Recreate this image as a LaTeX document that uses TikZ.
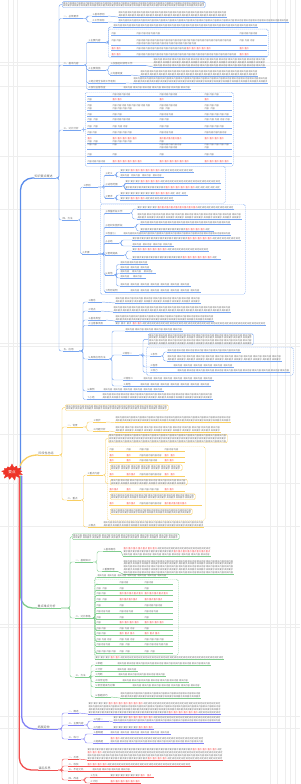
\documentclass[tikz,border=0pt]{standalone}
\usepackage{fontspec}
\setmainfont{Noto Sans CJK SC}
\usetikzlibrary{shapes.symbols}
\definecolor{bl}{RGB}{120,165,240}
\definecolor{blm}{RGB}{90,140,235}
\definecolor{ye}{RGB}{248,206,98}
\definecolor{gr}{RGB}{128,204,142}
\definecolor{pu}{RGB}{128,128,245}
\definecolor{rd}{RGB}{240,80,80}
\definecolor{rootc}{RGB}{238,52,40}
\definecolor{tc}{RGB}{110,110,110}
\definecolor{rt}{RGB}{240,70,70}
\definecolor{gridc}{RGB}{238,238,238}
\colorlet{brc}{bl}
\newcommand\tf{\fontsize{2.2}{2.75}\selectfont}
\newcommand\lf{\fontsize{2.5}{3}\selectfont}
\newcommand\lfa{\fontsize{3}{3.6}\selectfont}
\newsavebox\pbox
\newcount\rc
\newcommand\Rp[3]{\sbox\pbox{#3#2}\rc=\dimexpr#1pt\relax\divide\rc by\wd\pbox
  \hbox to #1pt{\loop\ifnum\rc>0 \usebox\pbox\hfil\advance\rc by -1 \repeat}}
\newcommand\Lf[2][内容]{\Rp{#2}{#1}{}}
\newcommand\Lr[2][重点]{\Rp{#2}{#1}{\color{rt}}}
\newcommand\Lrm[3]{\hbox{\Lf[要求]{#2}\Lr{#3}\Lf[规定]{\the\numexpr#1-#2-#3\relax}}\par}
\newcommand\Tb[2]{\foreach\q in{1,...,#2}{\ifodd\q\relax\Lf[相关内容]{#1}\else\Lf[具体要求]{#1}\fi\par}}
\newcommand\Nd[6][]{\node[txt,text width=#5pt,#1] (#2) at (#3,#4) {#6};
  \draw[ul] (#2.south west) -- (#2.south east);}
\newcommand\Cn[3][2.5]{\draw[cn] (#2.south east) -- ++(#1,0) |- (#3.south west);}
\newcommand\Cw[3][2.5]{\draw[cn] (#2.south east) -- ++(#1,0) |- (#3.west);}
\newcommand\Cs[2]{\draw[cn] (#1.south east) -- (#2.south west);}
\newcommand\DB[5]{\node[dbox,anchor=north west,minimum width={(#4-#2)*1pt},minimum height={(#5-#3)*1pt}] (#1) at (#2,#3) {};}
\newcommand\OB[5]{\node[obox,anchor=north west,text width=#4pt] (#1) at (#2,#3) {\Tb{#4}{#5}};}
\newcommand\Rw[4]{\hbox{\hbox to\wa{#1\hfil}\hbox to\wb{#2\hfil}\hbox to\wc{#3\hfil}#4}\par}
\def\wa{25pt}\def\wb{47pt}\def\wc{45pt}
\begin{document}
\begin{tikzpicture}[x=1pt,y=-1pt,
  txt/.style={anchor=south west,inner xsep=0.3pt,inner ysep=0.4pt,font=\tf,text=tc,align=left},
  ul/.style={draw=brc,line width=0.45pt},
  cn/.style={draw=brc,line width=0.45pt,rounded corners=2pt},
  dbox/.style={draw=brc,dashed,dash pattern=on 1.2pt off 0.8pt,line width=0.4pt,rounded corners=1.5pt,inner sep=0pt},
  obox/.style={draw=brc,line width=0.45pt,rounded corners=1.2pt,inner xsep=1pt,inner ysep=0.5pt,font=\tf,text=tc,align=left},
  mainln/.style={line width=1.3pt,line cap=round}]
\useasboundingbox (0,0) rectangle (300,784);
\foreach \gx in {8,13,17,270,277,285,290,295} \draw[gridc,line width=0.3pt] (\gx,0) -- (\gx,784);
\foreach \gy in {62,65,86,156,209,343,346,434,483,526,624,627,716,728} \draw[gridc,line width=0.3pt] (0,\gy) -- (300,\gy);

%================ BLUE
\colorlet{brc}{bl}
\Nd[font=\lfa]{b0}{34}{178}{21}{知识要点概述}
\OB{b1}{62}{1.5}{141}{2}
\Nd[font=\lf]{b2}{63}{18.5}{19}{一、总体要求}
\Nd[font=\lf]{b21}{92}{16}{15}{1.基本原则}
\Nd{b21t}{118}{17}{108}{\Tb{108}{2}}
\Nd[font=\lf]{b22}{92}{22}{15}{2.工作目标}
\Nd{b22t}{118}{22.5}{170}{\Tb{170}{1}}
\Nd[font=\lf]{b3}{63}{65}{20}{二、基本内容}
\Nd[font=\lf]{b31}{88}{42}{17}{1.主要内容}
\Nd{b31h}{113}{27}{144}{\Tb{144}{1}}
\DB{b31x}{108}{29}{268}{57}
\def\wa{25pt}\def\wb{103pt}\def\wc{20pt}
\Nd{b31r1}{111}{35.5}{155}{\Rw{\Lf{8}}{\Lf{24}}{\Lf{18}}{}}
\Nd{b31r2}{111}{45}{155}{\Rw{\Lf{10}}{\Lf{95}}{\Lf{16}}{}\Rw{}{\Lf{60}}{}{}}
\Nd{b31r3}{111}{50.5}{155}{\Rw{\Lr{10}}{\hbox{\Lf{50}\Lr{25}}}{\Lr{10}}{}}
\Nd{b31r4}{111}{56}{155}{\Rw{\Lr{10}}{\Lf{100}}{\Lr{10}}{}}
\Nd[font=\lf]{b32}{88}{70}{17}{2.主要措施}
\Nd[font=\lf]{b321}{110}{65.5}{35}{1.加强组织领导工作}
\Nd{b321t}{153}{67}{112}{\Tb{112}{3}}
\Nd[font=\lf]{b322}{110}{75}{20}{2.完善制度}
\Nd{b322t}{140}{76}{117}{\Tb{117}{2}}
\Nd[font=\lf]{b33}{88}{83}{37}{3.建立健全长效工作机制}
\Nd{b33t}{133}{83.5}{134}{\Tb{134}{2}}
\Nd[font=\lf]{b34}{88}{89.5}{25}{4.强化监督检查}
\Nd{b34t}{123}{89.5}{67}{\Tb{67}{1}}
\Nd[font=\lf]{b4}{63}{130}{17}{三、对比分析}
\DB{b4x}{85}{92}{233}{166}
\def\wa{25pt}\def\wb{47pt}\def\wc{45pt}
\Nd{b4r1}{87}{96}{144}{\Rw{}{\Lf{18}}{\Lf{18}}{\Lf{15}}}
\Nd{b4r2}{87}{101.5}{144}{\Rw{\Lf{8}}{\Lr{10}}{\Lr{8}}{\Lr{8}}}
\Nd{b4r3}{87}{110}{144}{\Rw{\Lf{8}}{\Lf{38}}{\Lf{18}}{\Lf{15}}\Rw{\Lf{8}}{\Lf{20}}{\Lf{12}}{\Lf{12}}}
\Nd{b4r4}{87}{116.5}{144}{\Rw{\Lf{6}}{\Lf{10}}{\Lf{14}}{\Lf{25}}}
\Nd{b4r5}{87}{121.5}{144}{\Rw{\Lf{12}}{\Lf{18}}{\Lf{10}}{\Lf{26}}}
\Nd{b4r6}{87}{128.5}{144}{\Rw{\Lf{12}}{\Lf{16}}{\Lf{10}}{\Lf{20}}}
\Nd{b4r7}{87}{134.5}{144}{\Rw{\Lf{10}}{\Lf{20}}{\Lf{14}}{\Lf{22}}}
\Nd{b4r8}{87}{143}{144}{\Rw{\Lr{8}}{\Lr{25}}{\Lr{22}}{\Lr{20}}\Rw{\Lf{12}}{\Lf{20}}{\Lf{8}}{}}
\Nd{b4r9}{87}{149.5}{144}{\Rw{\Lf{10}}{\Lf{8}}{\Lf{22}}{\Lf{25}}\Rw{}{}{\Lf{18}}{\Lf{8}}}
\Nd{b4r10}{87}{156}{144}{\Rw{\Lf{6}}{\Lf{8}}{\Lf{8}}{\Lf{10}}}
\Nd{b4r11}{87}{163}{144}{\Rw{\Lf{18}}{\Lr{30}}{\Lr{30}}{\Lr{25}}}
\Nd[font=\lf]{b5}{62}{220}{15}{四、方法}
\Nd[font=\lf]{b51}{83}{187}{14}{1.原则}
\DB{b51x}{100}{166}{225}{203}
\Nd[font=\lf]{b511}{105}{175}{8}{1.定义}
\Nd{b511a}{120}{172}{73}{\Lrm{73}{10}{30}}
\Nd{b511b}{120}{177}{43}{\Tb{43}{1}}
\Nd[font=\lf]{b512}{105}{186}{16}{2.适用范围}
\Nd{b512a}{125}{183.5}{95}{\Lrm{95}{15}{20}}
\Nd{b512b}{125}{189}{95}{\Lrm{95}{40}{30}}
\Nd[font=\lf]{b513}{105}{198}{8}{3.要求}
\Nd{b513a}{120}{195}{67}{\Lrm{67}{35}{15}}
\Nd{b513b}{120}{200}{53}{\Lrm{53}{10}{15}}
\Nd[font=\lf]{b52}{82}{254}{15}{2.步骤}
\DB{b52x}{100}{204}{245}{294}
\Nd[font=\lf]{b521}{105}{213}{24}{1.准备阶段工作}
\Nd{b521a}{137}{209}{96}{\Lrm{96}{20}{40}}
\Nd{b521b}{137}{219}{104}{\Tb{104}{2}}
\Nd[font=\lf]{b522}{105}{227}{28}{2.组织实施阶段}
\Nd{b522a}{140}{224}{90}{\Tb{90}{1}}
\Nd{b522b}{140}{231}{73}{\Lrm{73}{45}{20}}
\Nd[font=\lf]{b523}{105}{235.5}{16}{3.检查(1)}
\Nd{b523a}{123}{235.5}{107}{\Tb{107}{1}}
\Nd[font=\lf]{b524}{105}{243}{13}{4.总结}
\Nd{b524a}{132}{240}{108}{\Lrm{108}{55}{25}}
\Nd{b524b}{132}{246}{41}{\Tb{41}{1}}
\Nd[font=\lf]{b525}{105}{255}{18}{5.整改提高}
\Nd{b525a}{132}{251}{76}{\Lrm{76}{5}{30}}
\Nd{b525b}{132}{259}{88}{\Lrm{88}{50}{30}}
\Nd[font=\lf]{b526}{105}{275}{8}{6.其他}
\Nd{b526a}{120}{264.5}{27}{\Tb{27}{1}}
\Nd{b526b}{120}{269}{30}{\Tb{30}{1}}
\Nd{b526c}{120}{273.5}{35}{\Tb{35}{1}}
\Nd{b526d}{120}{278}{25}{\Tb{25}{1}}
\Nd{b526e}{120}{286}{70}{\Tb{70}{1}}
\Nd[font=\lf]{b527}{105}{292}{16}{7.附则说明}
\Nd{b527a}{130}{292}{70}{\Tb{70}{1}}
\Nd[font=\lf]{b6}{63}{351}{15}{五、应用}
\Nd[font=\lf]{b61}{88}{302}{13}{1.概念}
\Nd{b61t}{115}{303}{85}{\Tb{85}{2}}
\Nd[font=\lf]{b62}{88}{311}{12}{2.特点}
\Nd{b62t}{113}{312}{117}{\Tb{117}{2}}
\Nd[font=\lf]{b63}{88}{320}{17}{3.基本类型}
\Nd{b63t}{115}{321}{98}{\Tb{98}{2}}
\Nd[font=\lf]{b64}{88}{325.5}{20}{4.注意事项及}
\Nd{b64t}{115}{325.5}{150}{\Lrm{150}{17}{10}}
\Nd[font=\lf]{b65}{88}{359}{20}{5.具体应用方法}
\Nd{b65h}{125}{331}{57}{\Tb{57}{1}}
\OB{b651a}{148}{333.5}{103}{4}
\Nd[font=\lf]{b651}{122}{355}{16}{1.情形一}
\DB{b651x}{146}{347}{293}{375}
\Nd[font=\lf]{b6511}{150}{356}{10}{1.条件}
\Nd{b6511a}{167}{352}{73}{\Tb{73}{1}}
\Nd{b6511b}{167}{361}{114}{\Tb{114}{2}}
\Nd[font=\lf]{b6512}{150}{367}{15}{2.程序}
\Nd{b6512a}{173}{367}{60}{\Tb{60}{1}}
\Nd[font=\lf]{b6513}{150}{372.5}{15}{3.效力}
\Nd{b6513a}{177}{372.5}{112}{\Tb{112}{1}}
\Nd[font=\lf]{b652}{123}{380}{17}{2.情形二}
\Nd{b652t}{143}{380}{70}{\Tb{70}{1}}
\Nd[font=\lf]{b653}{123}{386}{12}{3.其他}
\Nd{b653t}{140}{386}{70}{\Tb{70}{1}}
\Nd[font=\lf]{b66}{87}{391}{13}{6.案例}
\Nd{b66t}{103}{391}{60}{\Tb{60}{1}}
\Nd[font=\lf]{b67}{87}{399.5}{12}{7.小结}
\Nd{b67t}{102}{399.5}{110}{\Tb{110}{2}}
% blue connectors
\Cw[3]{b0}{b1}
\foreach \k in {b2,b3,b4,b5,b6} {\Cn[3]{b0}{\k}}
\Cw{b4}{b4x}
\foreach \k in {b21,b22} {\Cn[4]{b2}{\k}}
\Cs{b21}{b21t}\Cs{b22}{b22t}
\foreach \k in {b31,b32,b33,b34} {\Cn{b3}{\k}}
\Cn{b31}{b31h}\Cw{b31}{b31x}
\foreach \k in {b321,b322} {\Cn{b32}{\k}}
\Cs{b321}{b321t}\Cs{b322}{b322t}\Cs{b33}{b33t}\Cs{b34}{b34t}
\foreach \k in {b51,b52} {\Cn{b5}{\k}}
\foreach \k in {b511,b512,b513} {\Cn[6]{b51}{\k}}
\Cn{b511}{b511a}\Cn{b511}{b511b}\Cn{b512}{b512a}\Cn{b512}{b512b}\Cn{b513}{b513a}\Cn{b513}{b513b}
\foreach \k in {b521,b522,b523,b524,b525,b526,b527} {\Cn[6]{b52}{\k}}
\Cn{b521}{b521a}\Cn{b521}{b521b}\Cn{b522}{b522a}\Cn{b522}{b522b}\Cs{b523}{b523a}
\Cn{b524}{b524a}\Cn{b524}{b524b}\Cn{b525}{b525a}\Cn{b525}{b525b}
\foreach \k in {b526a,b526b,b526c,b526d,b526e} {\Cn{b526}{\k}}
\Cs{b527}{b527a}
\foreach \k in {b61,b62,b63,b64,b65,b66,b67} {\Cn[4]{b6}{\k}}
\Cs{b61}{b61t}\Cs{b62}{b62t}\Cs{b63}{b63t}\Cs{b64}{b64t}\Cs{b66}{b66t}\Cs{b67}{b67t}
\foreach \k in {b65h,b651,b652,b653} {\Cn[3]{b65}{\k}}
\Cw[4]{b651}{b651a}
\foreach \k in {b6511,b6512,b6513} {\Cn[4]{b651}{\k}}
\Cn{b6511}{b6511a}\Cn{b6511}{b6511b}\Cs{b6512}{b6512a}\Cs{b6513}{b6513a}
\Cs{b652}{b652t}\Cs{b653}{b653t}

%================ YELLOW
\colorlet{brc}{ye}
\Nd[font=\lfa]{y0}{38}{455}{20}{阶段性总结}
\OB{y1}{65}{404.5}{101}{2}
\Nd[font=\lf]{y2}{67}{427}{15}{一、背景}
\Nd[font=\lf]{y21}{93}{422}{12}{1.现状}
\Nd{y21t}{115}{422.5}{115}{\Tb{115}{2}}
\Nd[font=\lf]{y22}{93}{431}{15}{2.问题分析}
\Nd{y22t}{115}{432}{105}{\Tb{105}{2}}
\Nd[font=\lf]{y3}{67}{500}{13}{二、重点}
\Nd[font=\lf]{y31}{87}{475}{15}{1.重点内容}
\OB{y31a}{108}{434}{117}{3}
\DB{y31x}{107}{446.5}{205}{520}
\def\wa{17pt}\def\wb{13pt}\def\wc{25pt}
\Nd{yr1}{109}{451}{75}{\Rw{\Lf{6}}{\Lf{6}}{\Lf{10}}{\Lf{14}}}
\Nd{yr2}{109}{457}{75}{\Rw{\Lr{5}}{\Lr{5}}{\Lf{22}}{\Lr{12}}}
\Nd{yr3}{109}{462}{75}{\Rw{\Lr{6}}{\Lr{5}}{\Lf{18}}{\Lr{10}}}
\OB{yb1}{110}{464.5}{70}{2}
\Nd{yr4}{109}{476.5}{75}{\Rw{\Lr{5}}{\Lr{9}}{\Lf{22}}{\Lr{12}}}
\OB{yb2}{110}{479}{75}{2}
\Nd{yr5}{109}{491}{75}{\Rw{\Lr{9}}{\Lr{5}}{\Lf{20}}{\Lr{10}}}
\OB{yb3}{110}{493.5}{83}{2}
\Nd{yr6}{109}{505.5}{92}{\Rw{\Lr{5}}{\Lr{9}}{\Lf{22}}{\Lr{22}}}
\OB{yb4}{110}{508.5}{80}{2}
\Nd[font=\lf]{y32}{88}{527}{10}{2.难点}
\Nd{y32t}{103}{527}{100}{\Tb{100}{2}}
\Cw[3]{y0}{y1}\Cn[3]{y0}{y2}\Cn[3]{y0}{y3}
\Cn[4]{y2}{y21}\Cn[4]{y2}{y22}\Cs{y21}{y21t}\Cs{y22}{y22t}
\Cn{y3}{y31}\Cn{y3}{y32}\Cs{y32}{y32t}
\Cw{y31}{y31a}\Cw{y31}{y31x}

%================ GREEN
\colorlet{brc}{gr}
\Nd[font=\lfa]{g0}{37}{608}{23}{重点难点分析}
\OB{g1}{72}{533.5}{105}{2}
\Nd[font=\lf]{g2}{75}{562}{17}{一、基础知识}
\Nd[font=\lf]{g21}{103}{551.5}{17}{1.基本概念}
\Nd{g21t}{123}{556}{87}{\Lrm{87}{0}{34}\Lrm{87}{50}{37}\Tb{87}{1}}
\Nd[font=\lf]{g22}{102}{571.5}{15}{2.重要原理}
\Nd{g22t}{123}{574}{110}{\Tb{110}{5}}
\Nd[font=\lf]{g3}{75}{618}{17}{二、对比表格}
\Nd{g3h}{97}{577}{70}{\Tb{70}{1}}
\DB{g3x}{94}{579}{178}{655}
\def\wa{23pt}\def\wb{25pt}\def\wc{25pt}
\Nd{gr1}{96}{584}{76}{\Rw{}{\Lf{9}}{\Lf{9}}{}}
\Nd{gr2}{96}{590}{76}{\Rw{\Lf{12}}{\Lf{5}}{\Lf{5}}{}}
\Nd{gr3}{96}{595.5}{76}{\Rw{\Lf{10}}{\Lr{24}}{\Lr{24}}{}}
\Nd{gr4}{96}{601.5}{76}{\Rw{\Lf{12}}{\Lr{18}}{\Lr{18}}{}}
\Nd{gr5}{96}{607.5}{76}{\Rw{\Lf{8}}{\Lf{6}}{\Lf{18}}{}}
\Nd{gr6}{96}{613.5}{76}{\Rw{\Lf{14}}{\Lf{14}}{\Lf{14}}{}}
\Nd{gr7}{96}{619}{76}{\Rw{\Lf{8}}{\Lf{6}}{\Lf{6}}{}}
\Nd{gr8}{96}{624.5}{76}{\Rw{\Lf{8}}{\Lr{20}}{\Lr{20}}{}}
\Nd{gr9}{96}{630}{76}{\Rw{\Lf{10}}{\Lf{16}}{\Lf{8}}{}}
\Nd{gr10}{96}{635.5}{76}{\Rw{\Lf{10}}{\Lr{16}}{\Lr{16}}{}}
\Nd{gr11}{96}{641}{76}{\Rw{\Lf{16}}{\Lf{16}}{\Lf{20}}{}}
\Nd{gr12}{96}{646.5}{76}{\Rw{\Lf{14}}{\Lf{12}}{\Lf{24}}{}}
\Nd{gr13}{96}{653}{76}{\Rw{\Lf{20}}{\Lf{12}}{\Lf{12}}{}}
\Nd{g3t}{95}{659}{128}{\Lrm{128}{15}{10}}
\Nd[font=\lf]{g4}{75}{677}{13}{三、方法}
\Nd[font=\lf]{g41}{95}{665}{15}{1.审题}
\Nd{g41t}{117}{665}{93}{\Tb{93}{1}}
\Nd[font=\lf]{g42}{95}{671}{13}{2.分析}
\Nd{g42t}{117}{671}{20}{\Tb{20}{1}}
\Nd[font=\lf]{g43}{95}{676}{13}{3.判断}
\Nd{g43t}{118}{676}{47}{\Tb{47}{1}}
\Nd[font=\lf]{g44}{95}{682}{17}{4.综合运用}
\Nd{g44t}{122}{682}{66}{\Tb{66}{1}}
\Nd[font=\lf]{g45}{95}{687}{30}{5.常见错误与对策}
\Nd{g45t}{132}{687}{68}{\Tb{68}{1}}
\Nd[font=\lf]{g46}{95}{697}{15}{6.答题技巧}
\Nd{g46t}{120}{698}{80}{\Tb{80}{2}}
\Cw[9]{g0}{g1}\Cn[9]{g0}{g2}\Cn[9]{g0}{g3}\Cn[9]{g0}{g4}
\Cn[4]{g2}{g21}\Cn[4]{g2}{g22}\Cs{g21}{g21t}\Cs{g22}{g22t}
\foreach \k in {g3h,gr1,gr2,gr3,gr4,gr5,gr6,gr7,gr8,gr9,gr10,gr11,gr12,gr13,g3t} {\Cn[2]{g3}{\k}}
\foreach \k in {g41,g42,g43,g44,g45,g46} {\Cn[2]{g4}{\k}}
\Cs{g41}{g41t}\Cs{g42}{g42t}\Cs{g43}{g43t}\Cs{g44}{g44t}\Cs{g45}{g45t}\Cs{g46}{g46t}

%================ PURPLE
\colorlet{brc}{pu}
\Nd[font=\lfa]{p0}{37}{729}{20}{拓展延伸}
\Nd[font=\lf]{p1}{68}{713}{10}{一、概述}
\Nd{p1t}{88}{714}{132}{\Lrm{132}{20}{35}\Tb{132}{2}\Lrm{132}{80}{30}}
\Nd[font=\lf]{p2}{68}{725}{15}{二、主要内容}
\Nd[font=\lf]{p21}{93}{721}{15}{1.内容一}
\Nd{p21t}{113}{722}{107}{\Lrm{107}{15}{25}\Tb{107}{1}}
\Nd[font=\lf]{p22}{93}{729}{15}{2.内容二}
\Nd{p22t}{113}{729}{40}{\Lrm{40}{25}{15}}
\Nd[font=\lf]{p3}{68}{739}{12}{三、练习}
\Nd[font=\lf]{p31}{93}{734}{12}{1.基础题}
\Nd{p31t}{110}{734}{60}{\Tb{60}{1}}
\Nd[font=\lf]{p32}{93}{743}{15}{2.提高题}
\Nd{p32t}{110}{743.5}{93}{\Lrm{93}{0}{10}\Tb{93}{1}}
\Cn[4]{p0}{p1}\Cn[4]{p0}{p2}\Cn[4]{p0}{p3}
\Cs{p1}{p1t}
\Cn[4]{p2}{p21}\Cn[4]{p2}{p22}\Cs{p21}{p21t}\Cs{p22}{p22t}
\Cn[4]{p3}{p31}\Cn[4]{p3}{p32}\Cs{p31}{p31t}\Cs{p32}{p32t}

%================ RED
\colorlet{brc}{rd}
\Nd[font=\lfa]{r0}{38}{770}{19}{课后反思}
\Nd[font=\lf]{r1}{68}{759}{10}{一、反思}
\Nd{r1t}{87}{760}{135}{\Lrm{135}{105}{25}\Lrm{135}{0}{15}\Tb{135}{1}\Lrm{135}{60}{20}}
\Nd[font=\lf]{r2}{68}{766}{10}{二、收获}
\Nd{r2t}{87}{766}{103}{\Lrm{103}{0}{20}}
\Nd[font=\lf]{r3}{68}{771}{15}{三、不足之处}
\Nd{r3t}{92}{771}{38}{\Tb{38}{1}}
\Nd[font=\lf]{r4}{68}{780}{12}{四、改进}
\Nd[font=\lf]{r41}{90}{777.5}{15}{1.方法}
\Nd{r41t}{110}{777.5}{43}{\Lrm{43}{30}{13}}
\Nd[font=\lf]{r42}{90}{783}{15}{2.计划}
\Nd{r42t}{110}{783}{30}{\Lrm{30}{0}{30}}
\foreach \k in {r1,r2,r3,r4} {\Cn[4]{r0}{\k}}
\Cs{r1}{r1t}\Cs{r2}{r2t}\Cs{r3}{r3t}
\Cn[4]{r4}{r41}\Cn[4]{r4}{r42}\Cs{r41}{r41t}\Cs{r42}{r42t}

%================ MAIN LINES + ROOT
\coordinate (hb) at (20.5,470);
\coordinate (hy) at (20,466);
\coordinate (hg) at (20.5,476);
\coordinate (hp) at (21.7,476);
\coordinate (hr) at (19.3,476);
\draw[mainln,draw=blm,rounded corners=12pt] (hb) |- (b0.south west);
\draw[mainln,draw=ye] (hy) to[out=70,in=180] (y0.south west);
\draw[mainln,draw=gr,rounded corners=12pt] (hg) |- (g0.south west);
\draw[mainln,draw=pu,rounded corners=12pt] (hp) |- (p0.south west);
\draw[mainln,draw=rd,rounded corners=12pt] (hr) |- (r0.south west);
\node[starburst,starburst points=13,starburst point height=4pt,random starburst=7,fill=rootc,draw=rootc,line width=0.3pt,minimum width=24pt,minimum height=17pt,inner sep=0pt,font=\fontsize{3.6}{4}\selectfont,text=white] (root) at (12,472) {要点};
\end{tikzpicture}
\end{document}
